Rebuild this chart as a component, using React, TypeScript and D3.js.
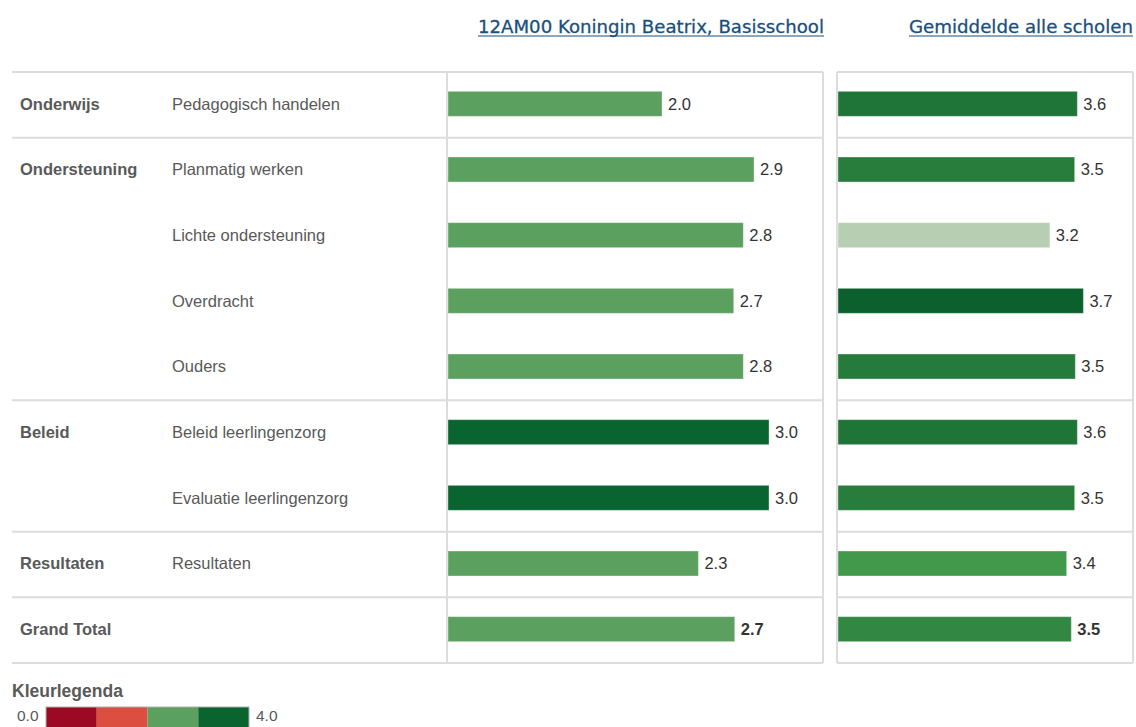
import React from "react";
import * as d3 from "d3";

const categories = ["Onderwijs", "Ondersteuning", "Ondersteuning", "Ondersteuning", "Ondersteuning", "Beleid", "Beleid", "Resultaten", "Grand Total"];
const subcategories = ["Pedagogisch handelen", "Planmatig werken", "Lichte ondersteuning", "Overdracht", "Ouders", "Beleid leerlingenzorg", "Evaluatie leerlingenzorg", "Resultaten", ""];
const schoolValues = [2.0, 2.86, 2.76, 2.67, 2.76, 3.0, 3.0, 2.34, 2.68];
const averageValues = [3.57, 3.53, 3.16, 3.66, 3.54, 3.57, 3.53, 3.41, 3.48];
const panelTitles = ["12AM00 Koningin Beatrix, Basisschool", "Gemiddelde alle scholen"];
const legendTitle = "Kleurlegenda";
const legendStops = [0, 1, 2, 3, 4];
const legendColors = ["#9b0a22", "#dc4e40", "#5ba05f", "#0a6430"];
const averageColorStops = [3.15, 3.4, 3.66];
const averageColorRange = ["#bdd0b6", "#449a4c", "#0b602d"];

const W = 1136;
const H = 727;
const TOP = 72;
const BOTTOM = 663;
const LEFT = 12;
const P1 = [447, 823];
const P2 = [837, 1133];
const FONT = "'Liberation Sans', Arial, sans-serif";
const FS = 16.5;

export default function App() {
  const rows = d3.range(categories.length);
  const y = d3.scaleBand<number>().domain(rows).range([TOP, BOTTOM]).padding(0);
  const x1 = d3.scaleLinear().domain([0, 3.5]).range([P1[0] + 1, P1[0] + 1 + 374.5]);
  const x2 = d3.scaleLinear().domain([0, 4.4]).range([P2[0] + 1, P2[0] + 1 + 295]);
  const colorSchool = d3.scaleThreshold<number, string>().domain(legendStops.slice(1, -1)).range(legendColors);
  const colorAvg = d3.scaleLinear<string>().domain(averageColorStops).range(averageColorRange).clamp(true);
  const legendX = d3.scaleLinear().domain([0, 4]).range([46, 249]);
  const barH = 25;

  const separators = rows.filter((i) => i > 0 && categories[i] !== categories[i - 1]).map((i) => y(i)!);
  const hLines = [TOP, ...separators, BOTTOM];
  const fmt = d3.format(".1f");
  const lineColor = "#dcdcdc";

  return (
    <svg width={W} height={H} style={{ position: "absolute", left: 0, top: 0, background: "#fff" }}>
      {panelTitles.map((t, i) => {
        const right = i === 0 ? P1[1] + 1 : P2[1];
        const len = i === 0 ? 346 : 224;
        return (
          <g key={t}>
            <text x={right - len} y={33} fontFamily="'DejaVu Sans', Tahoma, Verdana, sans-serif" fontSize={18.5} fill="#1b4f7c" stroke="#1b4f7c" strokeWidth={0.3} textLength={len} lengthAdjust="spacingAndGlyphs">
              {t}
            </text>
            <line x1={right - len} x2={right} y1={36} y2={36} stroke="#1b4f7c" strokeWidth={1.2} />
          </g>
        );
      })}

      {hLines.map((yy, i) => (
        <g key={"h" + i}>
          <line x1={LEFT} x2={P1[1]} y1={yy} y2={yy} stroke={lineColor} strokeWidth={2} />
          <line x1={P2[0]} x2={P2[1]} y1={yy} y2={yy} stroke={lineColor} strokeWidth={2} />
        </g>
      ))}
      {[P1[0], P1[1], P2[0], P2[1]].map((xx, i) => (
        <line key={"v" + i} x1={xx} x2={xx} y1={TOP} y2={BOTTOM} stroke={lineColor} strokeWidth={2} />
      ))}

      {rows.map((i) => {
        const cy = y(i)! + y.bandwidth() / 2 - 1;
        const showCat = i === 0 || categories[i] !== categories[i - 1];
        const isTotal = categories[i] === "Grand Total";
        return (
          <g key={"r" + i}>
            {showCat && (
              <text x={20} y={cy} dy="0.35em" fontFamily={FONT} fontSize={FS} fontWeight="bold" fill="#595959">
                {categories[i]}
              </text>
            )}
            <text x={172} y={cy} dy="0.35em" fontFamily={FONT} fontSize={FS} fill="#595959">
              {subcategories[i]}
            </text>
            <rect x={x1(0)} y={cy - barH / 2} width={x1(schoolValues[i]) - x1(0)} height={barH} fill={colorSchool(schoolValues[i])} stroke="#ffffff" strokeOpacity={0.35} strokeWidth={1} />
            <text x={x1(schoolValues[i]) + 6} y={cy} dy="0.35em" fontFamily={FONT} fontSize={FS} fontWeight={isTotal ? "bold" : "normal"} fill="#333">
              {fmt(schoolValues[i])}
            </text>
            <rect x={x2(0)} y={cy - barH / 2} width={x2(averageValues[i]) - x2(0)} height={barH} fill={colorAvg(averageValues[i])} stroke="#ffffff" strokeOpacity={0.35} strokeWidth={1} />
            <text x={x2(averageValues[i]) + 6} y={cy} dy="0.35em" fontFamily={FONT} fontSize={FS} fontWeight={isTotal ? "bold" : "normal"} fill="#333">
              {fmt(averageValues[i])}
            </text>
          </g>
        );
      })}

      <text x={12} y={697} fontFamily={FONT} fontSize={17.5} fontWeight="bold" fill="#595959">
        {legendTitle}
      </text>
      <text x={17} y={721} fontFamily={FONT} fontSize={15.5} fill="#595959">
        {fmt(legendStops[0])}
      </text>
      {legendColors.map((c, i) => (
        <rect key={"l" + i} x={legendX(legendStops[i])} y={707} width={legendX(legendStops[i + 1]) - legendX(legendStops[i])} height={22} fill={c} />
      ))}
      <rect x={legendX(0)} y={707} width={legendX(4) - legendX(0)} height={22} fill="none" stroke="#b0b0b0" strokeWidth={1} />
      <text x={256} y={721} fontFamily={FONT} fontSize={15.5} fill="#595959">
        {fmt(legendStops[legendStops.length - 1])}
      </text>
    </svg>
  );
}
